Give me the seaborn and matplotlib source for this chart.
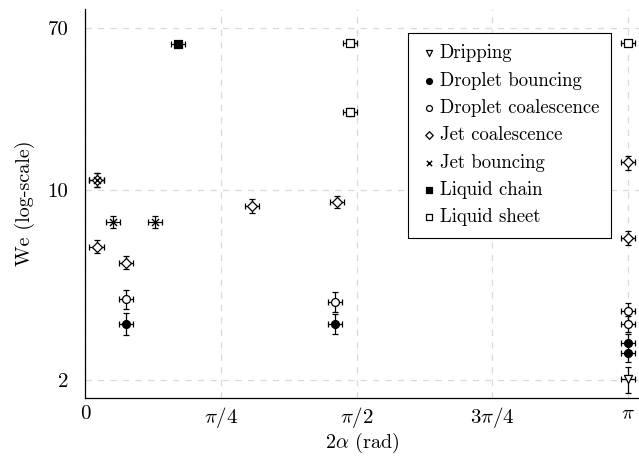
import numpy as np
import pandas as pd
import matplotlib
matplotlib.use("Agg")
import matplotlib.pyplot as plt
import seaborn as sns

PI = np.pi

# ---- data ----
categories = ["Dripping", "Droplet bouncing", "Droplet coalescence",
              "Jet coalescence", "Jet bouncing", "Liquid chain", "Liquid sheet"]

dripping_x = [PI]
dripping_we = [2.01]
dripping_yerr = [0.19]

dbounce_x = [0.237, 1.446, PI, PI]
dbounce_we = [3.06, 3.06, 2.64, 2.45]
dbounce_yerr = [0.26, 0.24, 0.18, 0.16]

dcoal_x = [0.237, 1.446, PI, PI]
dcoal_we = [3.74, 3.65, 3.37, 3.06]
dcoal_yerr = [0.29, 0.30, 0.24, 0.19]

jcoal_x = [0.069, 0.069, 0.237, 0.966, 1.458, PI, PI]
jcoal_we = [11.05, 5.84, 5.07, 8.54, 8.87, 13.2, 6.33]
jcoal_yerr = [0.75, 0.33, 0.28, 0.55, 0.55, 0.97, 0.40]

jbounce_x = [0.069, 0.162, 0.405]
jbounce_we = [11.05, 7.33, 7.33]
jbounce_yerr = [0.75, 0.41, 0.41]

lchain_x = [0.538]
lchain_we = [55.6]
lchain_yerr = [2.5]

lsheet_x = [1.533, 1.533, PI]
lsheet_we = [56.4, 23.2, 56.4]
lsheet_yerr = [2.5, 1.0, 2.5]

x_err = 0.043

xtick_vals = [0, PI / 4, PI / 2, 3 * PI / 4, PI]
xtick_labels = ["0", r"$\pi/4$", r"$\pi/2$", r"$3\pi/4$", r"$\pi$"]
ytick_vals = [2, 10, 70]
ytick_labels = ["2", "10", "70"]

series = [
    ("Dripping", dripping_x, dripping_we, dripping_yerr),
    ("Droplet bouncing", dbounce_x, dbounce_we, dbounce_yerr),
    ("Droplet coalescence", dcoal_x, dcoal_we, dcoal_yerr),
    ("Jet coalescence", jcoal_x, jcoal_we, jcoal_yerr),
    ("Jet bouncing", jbounce_x, jbounce_we, jbounce_yerr),
    ("Liquid chain", lchain_x, lchain_we, lchain_yerr),
    ("Liquid sheet", lsheet_x, lsheet_we, lsheet_yerr),
]

style = {
    "Dripping": dict(marker="v", fc="white", s=34),
    "Droplet bouncing": dict(marker="o", fc="black", s=32),
    "Droplet coalescence": dict(marker="o", fc="white", s=32),
    "Jet coalescence": dict(marker="D", fc="white", s=26),
    "Jet bouncing": dict(marker="x", fc="black", s=26),
    "Liquid chain": dict(marker="s", fc="black", s=32),
    "Liquid sheet": dict(marker="s", fc="white", s=26),
}

rows = []
for name, xs, ws, es in series:
    for x, w, e in zip(xs, ws, es):
        rows.append(dict(regime=name, angle=x, We=w, err=e))
df = pd.DataFrame(rows)

# ---- style ----
sns.set_style("white")
plt.rcParams["font.family"] = ["cmr10"]
plt.rcParams["mathtext.fontset"] = "cm"
plt.rcParams["axes.formatter.use_mathtext"] = True
plt.rcParams["axes.unicode_minus"] = False
plt.rcParams["text.color"] = "black"
plt.rcParams["axes.labelcolor"] = "black"

fig = plt.figure(figsize=(6.39, 4.57), dpi=100)
ax = fig.add_axes([85 / 639, 1 - 398 / 457, 1 - 85 / 639, (398 - 9) / 457])

def fwd(y):
    y = np.clip(np.asarray(y, dtype=float), 1e-6, None)
    return -np.power(y, -0.2)

def inv(u):
    u = np.clip(np.asarray(u, dtype=float), None, -1e-9)
    return np.power(-u, -5.0)

ax.set_yscale("function", functions=(fwd, inv))

# error bars
ax.errorbar(df["angle"], df["We"], xerr=x_err, yerr=df["err"], fmt="none",
            ecolor="black", elinewidth=0.9, capsize=2.3, capthick=0.9, zorder=3)

for name in categories:
    sub = df[df["regime"] == name]
    st = style[name]
    if st["marker"] == "x":
        sns.scatterplot(data=sub, x="angle", y="We", marker="x", color="black",
                        s=st["s"], linewidth=1.0, ax=ax, label=name, zorder=4)
    else:
        sns.scatterplot(data=sub, x="angle", y="We", marker=st["marker"],
                        color=st["fc"], edgecolor="black", s=st["s"],
                        linewidth=0.9, ax=ax, label=name, zorder=4)

ax.set_xlim(0, 3.205)
ax.set_ylim(1.76, 93)

ax.set_xticks(xtick_vals)
ax.set_xticklabels(xtick_labels)
ax.set_yticks(ytick_vals)
ax.set_yticklabels(ytick_labels)
ax.yaxis.set_minor_locator(matplotlib.ticker.NullLocator())
ax.xaxis.set_minor_locator(matplotlib.ticker.NullLocator())

ax.tick_params(axis="both", direction="in", length=4.5, width=0.8,
               labelsize=15, colors="black")
ax.tick_params(axis="x", pad=5)
ax.tick_params(axis="y", pad=12)

ax.grid(True, color="#d9d9d9", linestyle=(0, (5, 5)), linewidth=0.9, zorder=0)
ax.set_axisbelow(True)

for side in ["top", "right"]:
    ax.spines[side].set_visible(False)
for side in ["left", "bottom"]:
    ax.spines[side].set_color("black")
    ax.spines[side].set_linewidth(0.9)

ax.set_xlabel(r"2$\alpha$ (rad)", fontsize=14.5, labelpad=1, color="black")
ax.set_ylabel("We (log-scale)", fontsize=14.5, labelpad=9, color="black")

leg = ax.legend(loc="upper left", bbox_to_anchor=((408 - 85) / 554, (398 - 33) / 389),
                borderaxespad=0, fontsize=13.5, frameon=True, fancybox=False,
                edgecolor="black", framealpha=1, handletextpad=0.1,
                handlelength=1.0, labelspacing=0.5, markerscale=0.75,
                borderpad=0.6, labelcolor="black")
leg.get_frame().set_linewidth(0.8)

fig.savefig("out.png", dpi=100)
